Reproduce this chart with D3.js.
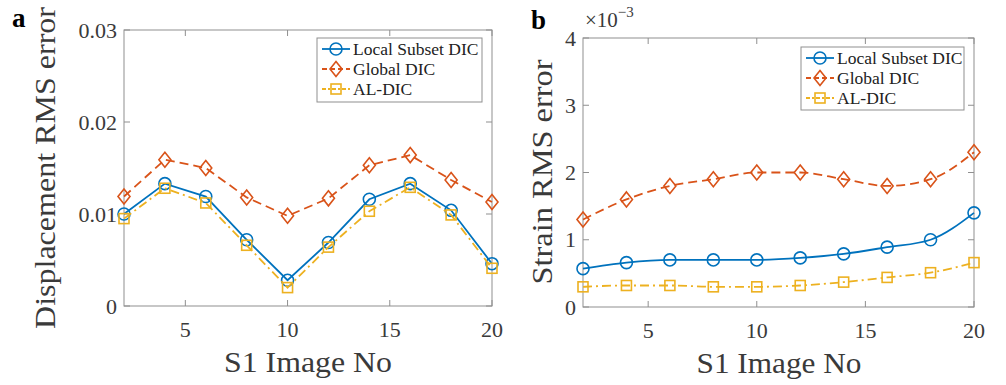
<!DOCTYPE html>
<html>
<head>
<meta charset="utf-8">
<script src="https://cdn.jsdelivr.net/npm/d3@7"></script>
<style>
  html, body { margin: 0; padding: 0; background: #fff; }
  svg { display: block; }
  svg text { font-family: "Liberation Serif", "Times New Roman", "DejaVu Serif", "Noto Serif", serif; }
</style>
</head>
<body>
<svg id="chart" width="1006" height="385"></svg>
<script>
// ---------------- data ----------------
const imageNo = [2, 4, 6, 8, 10, 12, 14, 16, 18, 20];
const seriesNames = ["Local Subset DIC", "Global DIC", "AL-DIC"];

// Panel a: displacement RMS error
const dispLocal  = [0.0100, 0.0133, 0.0119, 0.0072, 0.0028, 0.0069, 0.0116, 0.0133, 0.0104, 0.0046];
const dispGlobal = [0.0119, 0.0159, 0.0150, 0.0118, 0.0098, 0.0117, 0.0153, 0.0164, 0.0137, 0.0113];
const dispAL     = [0.0095, 0.0128, 0.0112, 0.0066, 0.0020, 0.0064, 0.0103, 0.0129, 0.0099, 0.0041];

// Panel b: strain RMS error (in units of 1e-3)
const strainLocal  = [0.57, 0.66, 0.70, 0.70, 0.70, 0.73, 0.79, 0.89, 1.00, 1.40];
const strainGlobal = [1.30, 1.60, 1.80, 1.90, 2.00, 2.00, 1.90, 1.80, 1.90, 2.30];
const strainAL     = [0.30, 0.32, 0.32, 0.30, 0.30, 0.32, 0.37, 0.44, 0.51, 0.66];

const xTicks = [5, 10, 15, 20];
const dispTicks = [0, 0.01, 0.02, 0.03];
const dispTickLabels = ["0", "0.01", "0.02", "0.03"];
const strainTicks = [0, 1, 2, 3, 4];
const strainTickLabels = ["0", "1", "2", "3", "4"];

// ---------------- styles ----------------
const FONT = "'Liberation Serif', 'Times New Roman', 'DejaVu Serif', 'Noto Serif', serif";
const colors = ["#0072BD", "#D95319", "#EDB120"];
const dashes = [null, "9,5", "9,4,2,4"];
const markers = ["circle", "diamond", "square"];
const boxColor = "#8f8f8f";
const textColor = "#3a3a3a";

const svg = d3.select("#chart");

function drawMarker(g, type, x, y, color) {
  if (type === "circle") {
    g.append("circle").attr("cx", x).attr("cy", y).attr("r", 6)
      .attr("fill", "none").attr("stroke", color).attr("stroke-width", 1.6);
  } else if (type === "diamond") {
    g.append("path")
      .attr("d", `M${x},${y-7.5}L${x+6},${y}L${x},${y+7.5}L${x-6},${y}Z`)
      .attr("fill", "none").attr("stroke", color).attr("stroke-width", 1.6);
  } else {
    g.append("rect").attr("x", x-5).attr("y", y-5).attr("width", 10).attr("height", 10)
      .attr("fill", "none").attr("stroke", color).attr("stroke-width", 1.6);
  }
}

function txt(g) {
  return g.append("text").attr("font-family", FONT);
}

function drawPanel(cfg) {
  const g = svg.append("g");
  const x = d3.scaleLinear().domain([2, 20]).range([cfg.x0, cfg.x1]);
  const y = d3.scaleLinear().domain(cfg.yDomain).range([cfg.y0, cfg.y1]);

  // box
  g.append("rect").attr("x", cfg.x0).attr("y", cfg.y1)
    .attr("width", cfg.x1 - cfg.x0).attr("height", cfg.y0 - cfg.y1)
    .attr("fill", "none").attr("stroke", boxColor).attr("stroke-width", 1);

  const tl = 6;
  xTicks.forEach(t => {
    const px = x(t);
    g.append("line").attr("x1", px).attr("x2", px).attr("y1", cfg.y0).attr("y2", cfg.y0 - tl)
      .attr("stroke", boxColor);
    g.append("line").attr("x1", px).attr("x2", px).attr("y1", cfg.y1).attr("y2", cfg.y1 + tl)
      .attr("stroke", boxColor);
    txt(g).attr("x", px).attr("y", cfg.y0 + 31)
      .attr("text-anchor", "middle").attr("font-size", 22).attr("fill", textColor)
      .text(t);
  });
  cfg.yTicks.forEach((t, i) => {
    const py = y(t);
    g.append("line").attr("x1", cfg.x0).attr("x2", cfg.x0 + tl).attr("y1", py).attr("y2", py)
      .attr("stroke", boxColor);
    g.append("line").attr("x1", cfg.x1).attr("x2", cfg.x1 - tl).attr("y1", py).attr("y2", py)
      .attr("stroke", boxColor);
    txt(g).attr("x", cfg.x0 - 7).attr("y", py + 7.5)
      .attr("text-anchor", "end").attr("font-size", 22).attr("fill", textColor)
      .text(cfg.yTickLabels[i]);
  });

  cfg.series.forEach((vals, si) => {
    const line = d3.line().x((d, i) => x(imageNo[i])).y(d => y(d)).curve(cfg.curve);
    g.append("path").datum(vals).attr("d", line)
      .attr("fill", "none").attr("stroke", colors[si]).attr("stroke-width", 1.8)
      .attr("stroke-dasharray", dashes[si]);
    vals.forEach((v, i) => drawMarker(g, markers[si], x(imageNo[i]), y(v), colors[si]));
  });

  txt(g)
    .attr("transform", `translate(${cfg.yLabelX},${cfg.yLabelY}) rotate(-90)`)
    .attr("text-anchor", "middle").attr("font-size", 29).attr("fill", textColor)
    .attr("textLength", cfg.yLabelLen).attr("lengthAdjust", "spacingAndGlyphs")
    .text(cfg.yLabel);
  txt(g).attr("x", cfg.xLabelX).attr("y", cfg.xLabelY)
    .attr("text-anchor", "middle").attr("font-size", 29).attr("fill", textColor)
    .attr("textLength", cfg.xLabelLen).attr("lengthAdjust", "spacingAndGlyphs")
    .text("S1 Image No");

  txt(g).attr("x", cfg.letterX).attr("y", cfg.letterY)
    .attr("font-size", 27).attr("font-weight", "bold").attr("fill", "#000")
    .text(cfg.letter);

  const lg = g.append("g");
  lg.append("rect").attr("x", cfg.legX).attr("y", cfg.legY)
    .attr("width", cfg.legW).attr("height", cfg.legH)
    .attr("fill", "#fff").attr("stroke", boxColor).attr("stroke-width", 1);
  seriesNames.forEach((name, si) => {
    const cy = cfg.legY + 11 + si * 20;
    const lx0 = cfg.legX + 5, lx1 = cfg.legX + 33;
    lg.append("line").attr("x1", lx0).attr("x2", lx1).attr("y1", cy).attr("y2", cy)
      .attr("stroke", colors[si]).attr("stroke-width", 1.8)
      .attr("stroke-dasharray", si === 0 ? null : (si === 1 ? "5,3" : "4,2,2,2"));
    drawMarker(lg, markers[si], (lx0 + lx1) / 2, cy, colors[si]);
    txt(lg).attr("x", cfg.legX + 36).attr("y", cy + 6)
      .attr("font-size", 17.5).attr("fill", "#222").text(name);
  });
}

drawPanel({
  x0: 124, x1: 492, y0: 306, y1: 30,
  yDomain: [0, 0.03], yTicks: dispTicks, yTickLabels: dispTickLabels,
  series: [dispLocal, dispGlobal, dispAL],
  curve: d3.curveLinear,
  yLabel: "Displacement RMS error", yLabelX: 55, yLabelY: 168, yLabelLen: 322,
  xLabelX: 308, xLabelY: 372, xLabelLen: 168,
  letter: "a", letterX: 12, letterY: 27,
  legX: 317, legY: 38, legW: 165, legH: 64
});

drawPanel({
  x0: 583, x1: 974, y0: 307, y1: 38,
  yDomain: [0, 4], yTicks: strainTicks, yTickLabels: strainTickLabels,
  series: [strainLocal, strainGlobal, strainAL],
  curve: d3.curveMonotoneX,
  yLabel: "Strain RMS error", yLabelX: 552, yLabelY: 172, yLabelLen: 225,
  xLabelX: 779, xLabelY: 373, xLabelLen: 165,
  letter: "b", letterX: 531, letterY: 29,
  legX: 801, legY: 47, legW: 163, legH: 63
});

const ex = txt(svg).attr("x", 585).attr("y", 27)
  .attr("font-size", 21).attr("fill", textColor);
ex.append("tspan").text("\u00d710");
ex.append("tspan").attr("dy", -10).attr("font-size", 15).text("\u22123");
</script>
</body>
</html>
